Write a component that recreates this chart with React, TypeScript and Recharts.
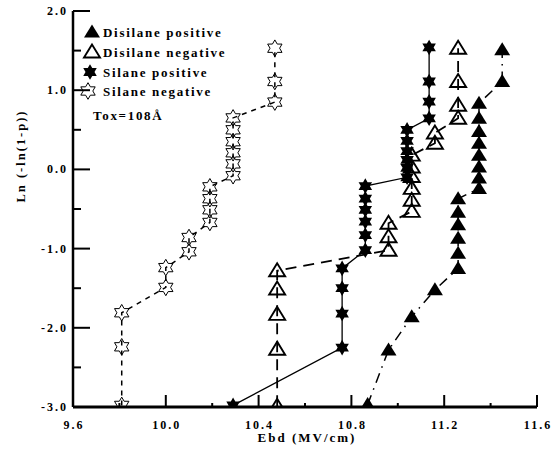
/**
 * Weibull plot of breakdown field — disilane vs silane oxides, both polarities.
 */
import React from "react";
import { ScatterChart, Scatter, XAxis, YAxis } from "recharts";

type Pt = { x: number; y: number };

// Disilane positive — filled triangles, dash-dot line
const disilanePositive: Pt[] = [
  { x: 10.87, y: -2.97 },
  { x: 10.96, y: -2.28 },
  { x: 11.06, y: -1.86 },
  { x: 11.16, y: -1.52 },
  { x: 11.26, y: -1.25 },
  { x: 11.26, y: -1.06 },
  { x: 11.26, y: -0.87 },
  { x: 11.26, y: -0.7 },
  { x: 11.26, y: -0.54 },
  { x: 11.26, y: -0.37 },
  { x: 11.35, y: -0.24 },
  { x: 11.35, y: -0.11 },
  { x: 11.35, y: 0.03 },
  { x: 11.35, y: 0.18 },
  { x: 11.35, y: 0.33 },
  { x: 11.35, y: 0.48 },
  { x: 11.35, y: 0.645 },
  { x: 11.35, y: 0.835 },
  { x: 11.45, y: 1.11 },
  { x: 11.45, y: 1.51 },
];

// Disilane negative — open triangles, long dashes
const disilaneNegative: Pt[] = [
  { x: 10.48, y: -2.99 },
  { x: 10.48, y: -2.27 },
  { x: 10.48, y: -1.83 },
  { x: 10.48, y: -1.51 },
  { x: 10.48, y: -1.28 },
  { x: 10.96, y: -1.02 },
  { x: 10.96, y: -0.85 },
  { x: 10.96, y: -0.68 },
  { x: 11.06, y: -0.53 },
  { x: 11.06, y: -0.39 },
  { x: 11.06, y: -0.24 },
  { x: 11.06, y: -0.09 },
  { x: 11.06, y: 0.03 },
  { x: 11.06, y: 0.18 },
  { x: 11.16, y: 0.33 },
  { x: 11.16, y: 0.46 },
  { x: 11.26, y: 0.645 },
  { x: 11.26, y: 0.81 },
  { x: 11.26, y: 1.11 },
  { x: 11.26, y: 1.53 },
];

// Silane positive — filled stars, solid line
const silanePositive: Pt[] = [
  { x: 10.29, y: -2.98 },
  { x: 10.76, y: -2.25 },
  { x: 10.76, y: -1.82 },
  { x: 10.76, y: -1.5 },
  { x: 10.76, y: -1.25 },
  { x: 10.86, y: -1.02 },
  { x: 10.86, y: -0.83 },
  { x: 10.86, y: -0.66 },
  { x: 10.86, y: -0.51 },
  { x: 10.86, y: -0.37 },
  { x: 10.86, y: -0.21 },
  { x: 11.04, y: -0.1 },
  { x: 11.04, y: 0.02 },
  { x: 11.04, y: 0.12 },
  { x: 11.04, y: 0.23 },
  { x: 11.04, y: 0.36 },
  { x: 11.04, y: 0.5 },
  { x: 11.135, y: 0.645 },
  { x: 11.135, y: 0.855 },
  { x: 11.135, y: 1.11 },
  { x: 11.135, y: 1.54 },
];

// Silane negative — open stars, short dashes
const silaneNegative: Pt[] = [
  { x: 9.81, y: -2.98 },
  { x: 9.81, y: -2.24 },
  { x: 9.81, y: -1.81 },
  { x: 10.0, y: -1.49 },
  { x: 10.0, y: -1.24 },
  { x: 10.1, y: -1.04 },
  { x: 10.1, y: -0.86 },
  { x: 10.19, y: -0.67 },
  { x: 10.19, y: -0.51 },
  { x: 10.19, y: -0.37 },
  { x: 10.19, y: -0.22 },
  { x: 10.29, y: -0.08 },
  { x: 10.29, y: 0.07 },
  { x: 10.29, y: 0.21 },
  { x: 10.29, y: 0.35 },
  { x: 10.29, y: 0.5 },
  { x: 10.29, y: 0.65 },
  { x: 10.47, y: 0.85 },
  { x: 10.47, y: 1.11 },
  { x: 10.47, y: 1.53 },
];

const xTicks = [9.6, 9.8, 10.0, 10.2, 10.4, 10.6, 10.8, 11.0, 11.2, 11.4, 11.6];
const xLabels = ["9.6", "", "10.0", "", "10.4", "", "10.8", "", "11.2", "", "11.6"];
const yTicks = [-3, -2.5, -2, -1.5, -1, -0.5, 0, 0.5, 1, 1.5, 2];
const yLabels = ["-3.0", "", "-2.0", "", "-1.0", "", "0.0", "", "1.0", "", "2.0"];

const FONT = '"Liberation Serif", "Times New Roman", serif';

// ---- markers ----
function triPoints(cx: number, cy: number) {
  return `${cx},${cy - 7.5} ${cx - 8},${cy + 5.5} ${cx + 8},${cy + 5.5}`;
}

function starPoints(cx: number, cy: number, ro: number, ri: number) {
  const pts: string[] = [];
  for (let i = 0; i < 12; i++) {
    const r = i % 2 === 0 ? ro : ri;
    const a = -Math.PI / 2 + (i * Math.PI) / 6;
    pts.push(`${(cx + r * Math.cos(a)).toFixed(2)},${(cy + r * Math.sin(a)).toFixed(2)}`);
  }
  return pts.join(" ");
}

const FilledTriangle = ({ cx, cy }: any) => <polygon points={triPoints(cx, cy)} fill="#000" />;
const OpenTriangle = ({ cx, cy }: any) => (
  <polygon points={triPoints(cx, cy)} fill="none" stroke="#000" strokeWidth={1.9} strokeLinejoin="miter" />
);
const FilledStar = ({ cx, cy }: any) => <polygon points={starPoints(cx, cy, 7.8, 4.5)} fill="#000" />;
const OpenStar = ({ cx, cy }: any) => (
  <polygon points={starPoints(cx, cy, 8.3, 4.8)} fill="none" stroke="#000" strokeWidth={1} />
);

// ---- ticks (drawn inward, box style) ----
const labelStyle = { fontFamily: FONT, fontWeight: 700, fontSize: 12, letterSpacing: 2 } as const;

function BottomTick({ x, y, index }: any) {
  const label = xLabels[index];
  return (
    <g>
      <line x1={x} y1={y} x2={x} y2={y - (label ? 12 : 4)} stroke="#000" strokeWidth={2} />
      {label && (
        <text x={x + 1} y={y + 22} textAnchor="middle" fill="#000" style={labelStyle}>
          {label}
        </text>
      )}
    </g>
  );
}

function TopTick({ x, y, index }: any) {
  const major = xLabels[index] !== "";
  return <line x1={x} y1={y} x2={x} y2={y + (major ? 15 : 7)} stroke="#000" strokeWidth={2} />;
}

function LeftTick({ x, y, index }: any) {
  const label = yLabels[index];
  return (
    <g>
      <line x1={x} y1={y} x2={x + (label ? 17 : 8)} y2={y} stroke="#000" strokeWidth={2} />
      {label && (
        <text x={x - 5} y={y + 4} textAnchor="end" fill="#000" style={labelStyle}>
          {label}
        </text>
      )}
    </g>
  );
}

function RightTick({ x, y }: any) {
  return <line x1={x} y1={y} x2={x - 8} y2={y} stroke="#000" strokeWidth={1.5} />;
}

const legendRows = [
  { name: "Disilane positive", Marker: FilledTriangle, mx: 92, y: 32 },
  { name: "Disilane negative", Marker: OpenTriangle, mx: 92, y: 52 },
  { name: "Silane positive", Marker: FilledStar, mx: 90, y: 72 },
  { name: "Silane negative", Marker: OpenStar, mx: 88, y: 91 },
];

const textStyle = { fontFamily: FONT, fontWeight: 700, fontSize: 13, letterSpacing: 1.7 } as const;

export default function App() {
  return (
    <div style={{ position: "absolute", left: 0, top: 0, width: 551, height: 452, background: "#fff" }}>
      <ScatterChart width={551} height={452} margin={{ top: 11, right: 14, bottom: 0, left: 8 }}>
        <XAxis
          xAxisId="b"
          dataKey="x"
          type="number"
          domain={[9.6, 11.6]}
          ticks={xTicks}
          interval={0}
          height={45}
          tickSize={0}
          tickMargin={0}
          tickLine={false}
          tick={(p: any) => <BottomTick {...p} />}
          axisLine={{ stroke: "#000", strokeWidth: 3 }}
          allowDataOverflow
        />
        <XAxis
          xAxisId="t"
          orientation="top"
          dataKey="x"
          type="number"
          domain={[9.6, 11.6]}
          ticks={xTicks}
          interval={0}
          height={0}
          tickSize={0}
          tickMargin={0}
          tickLine={false}
          tick={(p: any) => <TopTick {...p} />}
          axisLine={{ stroke: "#000", strokeWidth: 2.5 }}
          allowDataOverflow
        />
        <YAxis
          yAxisId="l"
          dataKey="y"
          type="number"
          domain={[-3, 2]}
          ticks={yTicks}
          interval={0}
          width={65}
          tickSize={0}
          tickMargin={0}
          tickLine={false}
          tick={(p: any) => <LeftTick {...p} />}
          axisLine={{ stroke: "#000", strokeWidth: 2.5 }}
          allowDataOverflow
        />
        <YAxis
          yAxisId="r"
          orientation="right"
          dataKey="y"
          type="number"
          domain={[-3, 2]}
          ticks={yTicks}
          interval={0}
          width={0}
          tickSize={0}
          tickMargin={0}
          tickLine={false}
          tick={(p: any) => <RightTick {...p} />}
          axisLine={{ stroke: "#000", strokeWidth: 3 }}
          allowDataOverflow
        />

        <Scatter
          xAxisId="b"
          yAxisId="l"
          data={silanePositive}
          line={{ stroke: "#000", strokeWidth: 1.3 }}
          shape={FilledStar}
          isAnimationActive={false}
        />
        <Scatter
          xAxisId="b"
          yAxisId="l"
          data={disilanePositive}
          line={{ stroke: "#000", strokeWidth: 1.5, strokeDasharray: "10 6 1.5 6" }}
          shape={FilledTriangle}
          isAnimationActive={false}
        />
        <Scatter
          xAxisId="b"
          yAxisId="l"
          data={disilaneNegative}
          line={{ stroke: "#000", strokeWidth: 1.8, strokeDasharray: "11 7" }}
          shape={OpenTriangle}
          isAnimationActive={false}
        />
        <Scatter
          xAxisId="b"
          yAxisId="l"
          data={silaneNegative}
          line={{ stroke: "#000", strokeWidth: 1.5, strokeDasharray: "5 5" }}
          shape={OpenStar}
          isAnimationActive={false}
        />
      </ScatterChart>

      {/* legend, annotation and axis titles */}
      <svg width={551} height={452} style={{ position: "absolute", left: 0, top: 0, pointerEvents: "none" }}>
        {legendRows.map((r) => (
          <g key={r.name}>
            <r.Marker cx={r.mx} cy={r.y} />
            <text x={103} y={r.y + 4.5} fill="#000" style={textStyle}>
              {r.name}
            </text>
          </g>
        ))}
        <text x={93} y={120} fill="#000" style={textStyle}>
          Tox=108Å
        </text>
        <text
          x={0}
          y={0}
          transform="translate(25,156) rotate(-90)"
          textAnchor="middle"
          fill="#000"
          style={{ ...labelStyle, fontSize: 12.5 }}
        >
          Ln (-ln(1-p))
        </text>
        <text x={307} y={442} textAnchor="middle" fill="#000" style={{ ...labelStyle, fontSize: 13 }}>
          Ebd (MV/cm)
        </text>
      </svg>
    </div>
  );
}
